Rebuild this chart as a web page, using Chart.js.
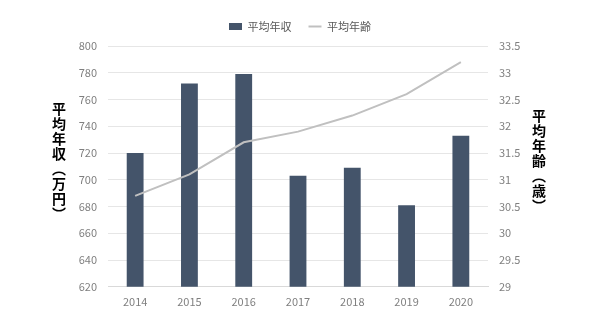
<!DOCTYPE html>
<html>
<head>
<meta charset="utf-8">
<script src="https://cdn.jsdelivr.net/npm/chart.js@4/dist/chart.umd.min.js"></script>
<style>
  html, body { margin: 0; padding: 0; background: #fff; }
  #wrap { position: relative; width: 600px; height: 324px; }
  .axis-title {
    position: absolute;
    width: 20px;
    writing-mode: vertical-rl;
    font-family: "Noto Sans CJK JP", sans-serif;
    font-weight: bold;
    font-size: 14px;
    line-height: 20px;
    letter-spacing: 1px;
    color: #000;
    transform: translateY(-50%);
    white-space: nowrap;
  }
</style>
</head>
<body>
<div id="wrap">
  <canvas id="chart" width="600" height="324"></canvas>
  <div class="axis-title" style="left:49px; top:162px;">平均年収（万円）</div>
  <div class="axis-title" style="left:529px; top:161px;">平均年齢（歳）</div>
</div>
<script>
const years = ["2014", "2015", "2016", "2017", "2018", "2019", "2020"];
const avgIncome = [720, 772, 779, 703, 709, 681, 733];
const avgAge = [30.7, 31.1, 31.7, 31.9, 32.2, 32.6, 33.2];

const FONT = '"Noto Sans CJK JP", "Noto Sans", sans-serif';

// extra gap between the legend and the plot area
const legendGap = {
    id: "legendGap",
    beforeInit(chart) {
        const fit = chart.legend.fit;
        chart.legend.fit = function () {
            fit.call(this);
            this.height += 4;
        };
    }
};

new Chart(document.getElementById("chart"), {
    data: {
        labels: years,
        datasets: [
            {
                type: "line",
                label: "平均年齢",
                data: avgAge,
                yAxisID: "yAge",
                borderColor: "#c0c0c0",
                backgroundColor: "#c0c0c0",
                borderWidth: 2,
                pointRadius: 0,
                tension: 0,
                pointStyle: "line",
                order: 0
            },
            {
                type: "bar",
                label: "平均年収",
                data: avgIncome,
                yAxisID: "yIncome",
                backgroundColor: "#44546a",
                barPercentage: 0.31,
                categoryPercentage: 1,
                pointStyle: "rect",
                order: 1
            }
        ]
    },
    plugins: [legendGap],
    options: {
        responsive: false,
        animation: false,
        layout: { padding: { top: 4, left: 0, right: 0, bottom: 8 } },
        plugins: {
            legend: {
                position: "top",
                reverse: true,
                labels: {
                    usePointStyle: true,
                    pointStyleWidth: 13,
                    boxHeight: 7,
                    padding: 17,
                    color: "#595959",
                    font: { family: FONT, size: 11 }
                }
            },
            tooltip: { enabled: false }
        },
        scales: {
            x: {
                grid: { display: false, drawTicks: false },
                border: { color: "#d9d9d9" },
                ticks: { color: "#7f7f7f", padding: 8, font: { family: FONT, size: 11 } }
            },
            yIncome: {
                position: "left",
                min: 620,
                max: 800,
                grid: { color: "#e6e6e6", drawTicks: false },
                border: { display: false },
                ticks: { stepSize: 20, color: "#7f7f7f", padding: 11, font: { family: FONT, size: 11 } },
                afterFit: axis => { axis.width = 108; }
            },
            yAge: {
                position: "right",
                min: 29,
                max: 33.5,
                grid: { display: false, drawTicks: false },
                border: { display: false },
                ticks: {
                    stepSize: 0.5,
                    color: "#7f7f7f",
                    padding: 11,
                    font: { family: FONT, size: 11 },
                    callback: v => String(+v.toFixed(1))
                },
                afterFit: axis => { axis.width = 112; }
            }
        }
    }
});
</script>
</body>
</html>
